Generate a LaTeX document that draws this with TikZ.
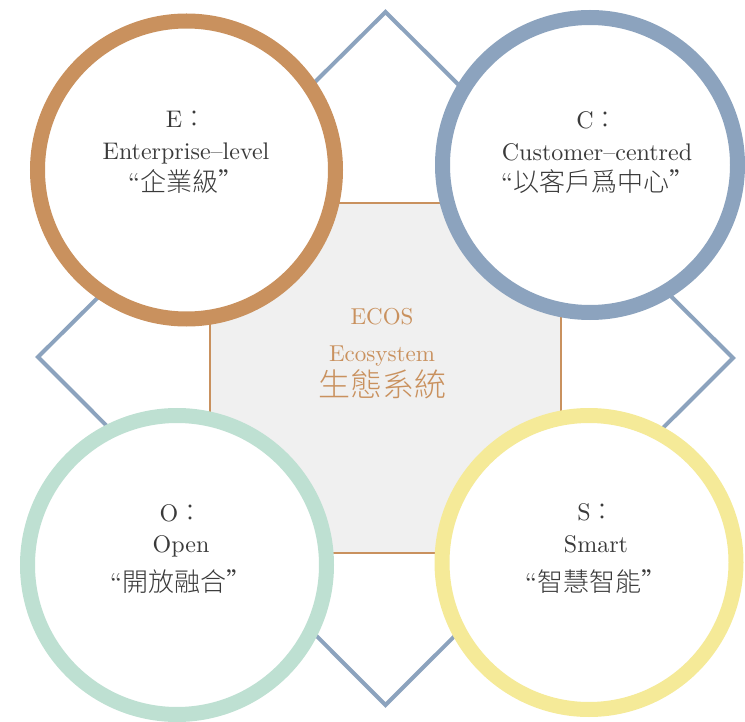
\documentclass[tikz,border=0pt]{standalone}
\usepackage{fontspec}
\setmainfont{lmroman10-regular.otf}
\newfontfamily\cjk{Noto Sans CJK TC}[UprightFont=* Light]
\definecolor{tanC}{HTML}{C9915E}
\definecolor{blueC}{HTML}{8CA3BE}
\definecolor{greenC}{HTML}{BEE0D2}
\definecolor{yellowC}{HTML}{F5EA98}
\definecolor{sqfill}{HTML}{F0F0F0}
\definecolor{txt}{HTML}{3A3A3A}
\tikzset{
  ring/.style={line width=15pt, fill=white},
  lat/.style={anchor=base, inner sep=0pt, text=txt, font=\fontsize{24}{28}\selectfont},
  han/.style={anchor=base, inner sep=0pt, text=txt, font=\fontsize{26}{30}\selectfont},
  ctr/.style={anchor=base, inner sep=0pt, text=tanC, font=\fontsize{23}{28}\selectfont},
}
\begin{document}
\begin{tikzpicture}[x=1pt,y=-1pt]
\useasboundingbox (0,0) rectangle (745,722);
% central square
\node[draw=tanC, line width=1.2pt, fill=sqfill, minimum width=351pt, minimum height=350pt, inner sep=0pt] (sq) at (385.5,378) {};
% diamond
\coordinate (dt) at (385.5,12);
\coordinate (dr) at (733,358);
\coordinate (db) at (385.5,705);
\coordinate (dl) at (38,357);
\draw[blueC, line width=4pt, line join=miter] (dt) -- (dr) -- (db) -- (dl) -- cycle;
% circles
\draw[ring, draw=tanC] (186.5,170) circle (149);
\draw[ring, draw=blueC] (590,165) circle (147.5);
\draw[ring, draw=greenC] (177,565) circle (149.5);
\draw[ring, draw=yellowC] (589,562.5) circle (147);
% center text
\node[ctr] (c1) at (382,324) {ECOS};
\node[ctr] (c2) at (382,361) {Ecosystem};
\node[ctr, font=\fontsize{32}{36}\selectfont\cjk] (c3) at (382,396) {生態系統};
% E
\node[lat] (e1) at (186,128) {E\cjk{：}};
\node[lat] (e2) at (186,160) {Enterprise--level};
\node[han] (e3) at (186,192) {“\cjk{企業級}”};
% C
\node[lat] (k1) at (597,129) {C\cjk{：}};
\node[lat] (k2) at (597,161) {Customer--centred};
\node[han] (k3) at (598,192) {“\cjk{以客戶爲中心}”};
% O
\node[lat] (o1) at (181,521) {O\cjk{：}};
\node[lat] (o2) at (181,552) {Open};
\node[han] (o3) at (181,591) {“\cjk{開放融合}”};
% S
\node[lat] (s1) at (596,520) {S\cjk{：}};
\node[lat] (s2) at (596,552) {Smart};
\node[han] (s3) at (596,591) {“\cjk{智慧智能}”};
\end{tikzpicture}
\end{document}
